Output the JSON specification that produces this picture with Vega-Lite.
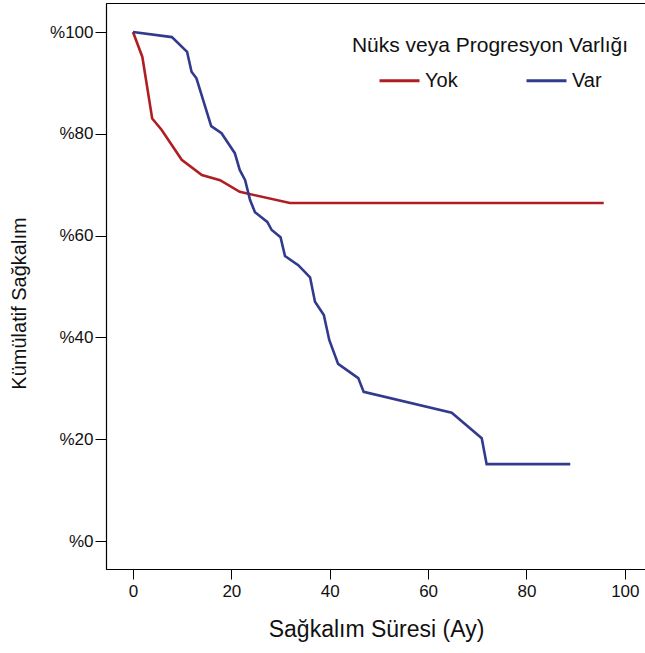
{
  "$schema": "https://vega.github.io/schema/vega-lite/v6.json",
  "width": 540,
  "height": 566,
  "autosize": {"type": "none"},
  "padding": {"left": 106, "top": 3, "right": 0, "bottom": 84},
  "background": "white",
  "config": {
    "font": "Liberation Sans",
    "view": {"stroke": "#000", "strokeWidth": 1},
    "axis": {"grid": false, "domainColor": "#000", "tickColor": "#000", "labelColor": "#111", "titleColor": "#111", "titleFontWeight": "normal", "labelFont": "Liberation Sans", "titleFont": "Liberation Sans"}
  },
  "data": {
    "values": [
      {"t": 0, "s": 100, "g": "Yok"},
      {"t": 1.9, "s": 95.1, "g": "Yok"},
      {"t": 3.9, "s": 83.0, "g": "Yok"},
      {"t": 5.8, "s": 80.8, "g": "Yok"},
      {"t": 9.9, "s": 74.9, "g": "Yok"},
      {"t": 14.0, "s": 71.9, "g": "Yok"},
      {"t": 17.7, "s": 70.9, "g": "Yok"},
      {"t": 21.7, "s": 68.6, "g": "Yok"},
      {"t": 31.9, "s": 66.4, "g": "Yok"},
      {"t": 95.7, "s": 66.4, "g": "Yok"},
      {"t": 0, "s": 100, "g": "Var"},
      {"t": 7.9, "s": 99.0, "g": "Var"},
      {"t": 11.0, "s": 96.1, "g": "Var"},
      {"t": 11.9, "s": 92.2, "g": "Var"},
      {"t": 12.9, "s": 90.9, "g": "Var"},
      {"t": 15.9, "s": 81.5, "g": "Var"},
      {"t": 18.0, "s": 80.1, "g": "Var"},
      {"t": 20.7, "s": 76.2, "g": "Var"},
      {"t": 21.7, "s": 72.9, "g": "Var"},
      {"t": 22.8, "s": 70.9, "g": "Var"},
      {"t": 23.8, "s": 67.0, "g": "Var"},
      {"t": 24.8, "s": 64.6, "g": "Var"},
      {"t": 27.3, "s": 62.7, "g": "Var"},
      {"t": 28.2, "s": 61.1, "g": "Var"},
      {"t": 30.0, "s": 59.7, "g": "Var"},
      {"t": 30.9, "s": 56.0, "g": "Var"},
      {"t": 33.6, "s": 54.2, "g": "Var"},
      {"t": 36.0, "s": 51.8, "g": "Var"},
      {"t": 37.0, "s": 47.0, "g": "Var"},
      {"t": 38.8, "s": 44.4, "g": "Var"},
      {"t": 39.9, "s": 39.5, "g": "Var"},
      {"t": 41.7, "s": 34.8, "g": "Var"},
      {"t": 45.8, "s": 32.0, "g": "Var"},
      {"t": 46.9, "s": 29.3, "g": "Var"},
      {"t": 64.8, "s": 25.2, "g": "Var"},
      {"t": 70.9, "s": 20.2, "g": "Var"},
      {"t": 71.9, "s": 15.1, "g": "Var"},
      {"t": 88.9, "s": 15.1, "g": "Var"}
    ]
  },
  "mark": {"type": "line", "strokeWidth": 2.6, "interpolate": "linear"},
  "encoding": {
    "x": {
      "field": "t", "type": "quantitative",
      "scale": {"domain": [-5.49, 104.3], "nice": false, "zero": false},
      "axis": {"values": [0, 20, 40, 60, 80, 100], "title": "Sağkalım Süresi (Ay)", "titleFontSize": 23, "labelFontSize": 17, "tickSize": 10, "labelPadding": 4, "titlePadding": 19, "domainWidth": 1.2}
    },
    "y": {
      "field": "s", "type": "quantitative",
      "scale": {"domain": [-5.5, 105.7], "nice": false, "zero": false},
      "axis": {"values": [0, 20, 40, 60, 80, 100], "labelExpr": "'%' + datum.value", "title": "Kümülatif Sağkalım", "titleFontSize": 20, "titleY": 300, "labelFontSize": 17, "tickSize": 11, "labelPadding": 2, "titlePadding": 20, "domainWidth": 1.2}
    },
    "color": {
      "field": "g", "type": "nominal",
      "scale": {"domain": ["Yok", "Var"], "range": ["#b01e23", "#323a8e"]},
      "legend": {
        "title": "Nüks veya Progresyon Varlığı",
        "orient": "none",
        "legendX": 246,
        "legendY": 32,
        "direction": "horizontal",
        "titleAnchor": "middle",
        "titleFontSize": 21,
        "titleFontWeight": "normal",
        "titleColor": "#111",
        "titleLimit": 500,
        "titlePadding": 3,
        "labelFontSize": 20,
        "labelColor": "#111",
        "labelOffset": 4,
        "symbolType": "stroke",
        "symbolSize": 1600,
        "symbolStrokeWidth": 3,
        "symbolOffset": 0,
        "columnPadding": 62
      }
    }
  }
}
